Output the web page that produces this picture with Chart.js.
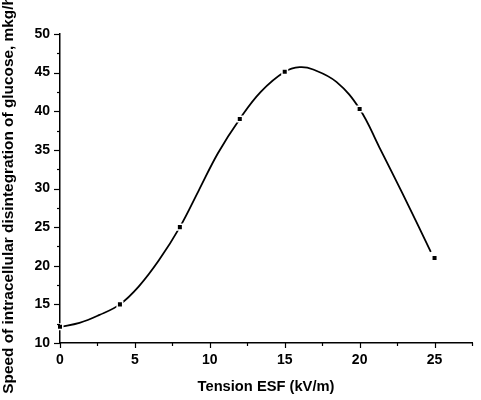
<!DOCTYPE html>
<html>
<head>
<meta charset="utf-8">
<script src="https://cdn.jsdelivr.net/npm/chart.js@4/dist/chart.umd.min.js"></script>
<style>
html,body{margin:0;padding:0;background:#fff;}
#wrap{width:481px;height:400px;position:relative;}
</style>
</head>
<body>
<div id="wrap"><canvas id="c"></canvas></div>
<script>
// Measured points
const tensionKV = [0, 4, 8, 12, 15, 20, 25];
const glucoseSpeed = [12.1, 15.0, 25.0, 39.0, 45.1, 40.3, 21.0];
// Fitted curve
const curveX = [0, 1.3, 2.6, 4, 5.25, 6.6, 8, 9.25, 10.55, 12, 13.4, 15, 16, 16.9, 18.45, 20, 21.3, 22.85, 24.75];
const curveY = [12.1, 12.6, 13.6, 15.0, 17.3, 20.7, 25.0, 29.7, 34.6, 39.0, 42.5, 45.1, 45.7, 45.4, 43.8, 40.3, 35.4, 29.4, 21.8];

const xTitle = 'Tension ESF (kV/m)';
const yTitle = 'Speed of intracellular disintegration of glucose, mkg/h';

const pts = tensionKV.map((x, i) => ({x: x, y: glucoseSpeed[i]}));
const curve = curveX.map((x, i) => ({x: x, y: curveY[i]}));

const FONT = 'Liberation Sans, Arial, Helvetica, sans-serif';

const tickPlugin = {
  id: 'tickMarks',
  afterDraw(chart) {
    const ctx = chart.ctx;
    const xs = chart.scales.x, ys = chart.scales.y;
    const ca = chart.chartArea;
    ctx.save();
    ctx.strokeStyle = '#000';
    ctx.lineWidth = 1.2;
    xs.ticks.forEach(t => {
      const px = Math.round(xs.getPixelForValue(t.value)) + 0.5;
      const len = (Math.abs(t.value % 5) < 1e-6) ? 5 : 3;
      ctx.beginPath();
      ctx.moveTo(px, ca.bottom);
      ctx.lineTo(px, ca.bottom + len);
      ctx.stroke();
    });
    ys.ticks.forEach(t => {
      const py = Math.round(ys.getPixelForValue(t.value)) + 0.5;
      const len = (Math.abs(t.value % 5) < 1e-6) ? 6 : 3;
      ctx.beginPath();
      ctx.moveTo(ca.left, py);
      ctx.lineTo(ca.left - len, py);
      ctx.stroke();
    });
    ctx.restore();
  }
};

new Chart(document.getElementById('c'), {
  type: 'line',
  data: {
    datasets: [
      {
        label: 'measured',
        data: pts,
        showLine: false,
        pointStyle: 'rect',
        pointRadius: 3.9,
        pointBackgroundColor: '#000',
        pointBorderColor: '#fff',
        pointBorderWidth: 1.5,
        clip: false
      },
      {
        label: 'fit',
        data: curve,
        borderColor: '#000',
        borderWidth: 1.8,
        pointRadius: 0,
        fill: false,
        tension: 0.4
      }
    ]
  },
  options: {
    responsive: true,
    maintainAspectRatio: false,
    animation: false,
    events: [],
    layout: {padding: {top: 34, right: 5, left: 0, bottom: 0}},
    plugins: {legend: {display: false}, tooltip: {enabled: false}},
    scales: {
      x: {
        type: 'linear',
        min: 0, max: 27.5,
        afterFit(s) { s.height = 57; },
        border: {color: '#000', width: 1.5},
        grid: {display: true, drawOnChartArea: false, drawTicks: false},
        ticks: {
          stepSize: 2.5,
          autoSkip: false,
          maxRotation: 0,
          padding: 9,
          color: '#000',
          font: {family: FONT, size: 14, weight: 'bold'},
          callback: v => (Math.abs(v % 5) < 1e-6 ? String(v) : '')
        },
        title: {
          display: true,
          text: xTitle,
          color: '#000',
          font: {family: FONT, size: 14.7, weight: 'bold'},
          padding: {top: 0, bottom: 4}
        }
      },
      y: {
        type: 'linear',
        min: 10, max: 50,
        afterFit(s) { s.width = 60; },
        border: {color: '#000', width: 1.5},
        grid: {display: true, drawOnChartArea: false, drawTicks: false},
        ticks: {
          stepSize: 2.5,
          autoSkip: false,
          padding: 10,
          color: '#000',
          font: {family: FONT, size: 14, weight: 'bold'},
          callback: v => (Math.abs(v % 5) < 1e-6 ? String(v) : '')
        },
        title: {
          display: true,
          text: yTitle + '   ',
          color: '#000',
          font: {family: FONT, size: 15.4, weight: 'bold'},
          padding: {top: 0, bottom: 0}
        }
      }
    }
  },
  plugins: [tickPlugin]
});
</script>
</body>
</html>
